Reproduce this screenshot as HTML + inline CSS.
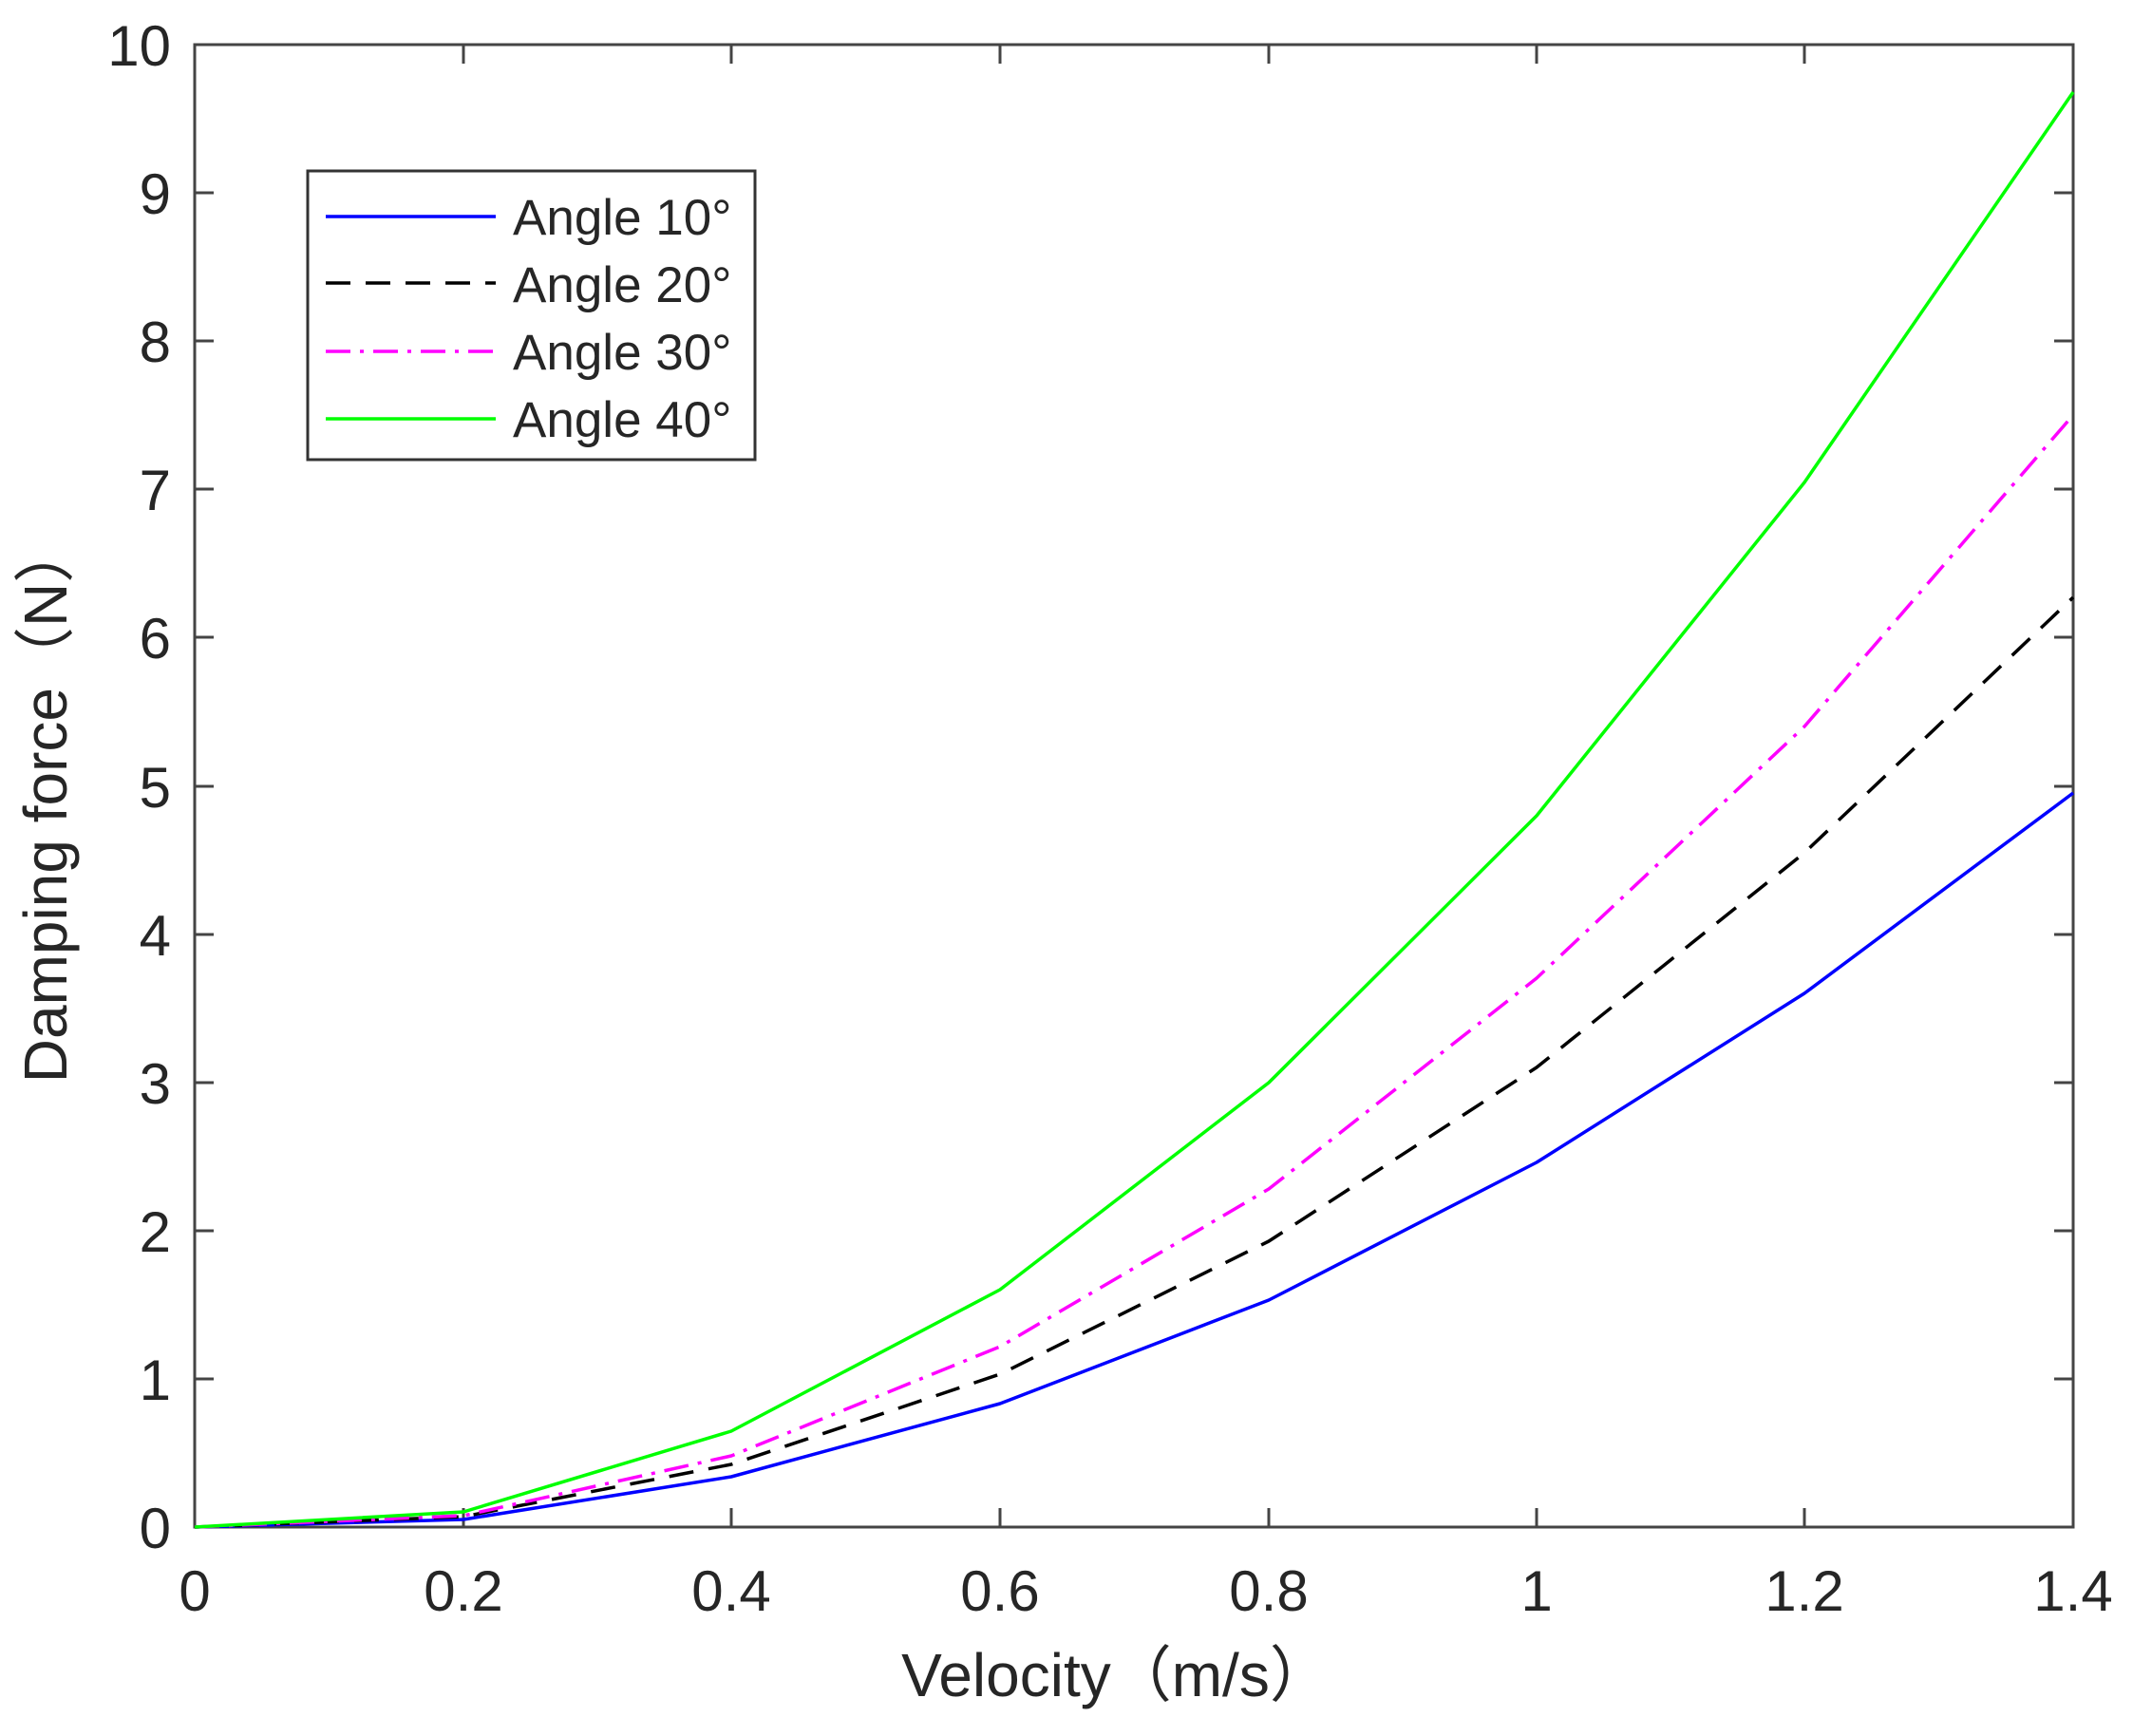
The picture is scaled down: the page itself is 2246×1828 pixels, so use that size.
<!DOCTYPE html>
<html><head><meta charset="utf-8"><style>
html,body{margin:0;padding:0;background:#fff}
svg{display:block}
text{font-family:"Liberation Sans","Noto Sans CJK SC",sans-serif;fill:#262626}
</style></head><body>
<svg width="2246" height="1828" viewBox="0 0 2246 1828" xmlns="http://www.w3.org/2000/svg">
<g stroke="#444" stroke-width="3" fill="none">
<rect x="205" y="47" width="1978" height="1561"/>
<path d="M488,1608v-20M770,1608v-20M1053,1608v-20M1336,1608v-20M1618,1608v-20M1900,1608v-20
M488,47v20M770,47v20M1053,47v20M1336,47v20M1618,47v20M1900,47v20
M205,1452h20M205,1296h20M205,1140h20M205,984h20M205,828h20M205,671h20M205,515h20M205,359h20M205,203h20
M2183,1452h-20M2183,1296h-20M2183,1140h-20M2183,984h-20M2183,828h-20M2183,671h-20M2183,515h-20M2183,359h-20M2183,203h-20"/>
</g>
<g font-size="60" text-anchor="end">
<text x="180" y="1630">0</text><text x="180" y="1474">1</text><text x="180" y="1318">2</text>
<text x="180" y="1162">3</text><text x="180" y="1006">4</text><text x="180" y="850">5</text>
<text x="180" y="693">6</text><text x="180" y="537">7</text><text x="180" y="381">8</text>
<text x="180" y="225">9</text><text x="180" y="69">10</text>
</g>
<g font-size="60" text-anchor="middle">
<text x="205" y="1696">0</text><text x="488" y="1696">0.2</text><text x="770" y="1696">0.4</text>
<text x="1053" y="1696">0.6</text><text x="1336" y="1696">0.8</text><text x="1618" y="1696">1</text>
<text x="1900" y="1696">1.2</text><text x="2183" y="1696">1.4</text>
</g>
<text x="1175" y="1786" font-size="64" text-anchor="middle">Velocity（m/s）</text>
<text transform="translate(70,845) rotate(-90)" font-size="64" text-anchor="middle">Damping force（N）</text>
<g fill="none" stroke-width="3.5" stroke-linejoin="round">
<polyline stroke="#0000ff" points="205,1608 488,1600 770,1555 1053,1478 1336,1369 1618,1224 1900,1046 2183,835"/>
<polyline stroke="#000" stroke-dasharray="26,16" points="205,1608 488,1597 770,1542 1053,1447 1336,1307 1618,1124 1900,898 2183,629"/>
<polyline stroke="#ff00ff" stroke-dasharray="26,10,4,10" points="205,1608 488,1596 770,1533 1053,1418 1336,1252 1618,1030 1900,765 2183,437"/>
<polyline stroke="#00ff00" points="205,1608 488,1592 770,1507 1053,1358 1336,1140 1618,859 1900,508 2183,97"/>
</g>
<rect x="324" y="180" width="471" height="304" fill="#fff" stroke="#333" stroke-width="3"/>
<g stroke-width="3.5">
<line x1="343" y1="228" x2="522" y2="228" stroke="#0000ff"/>
<line x1="343" y1="298" x2="522" y2="298" stroke="#000" stroke-dasharray="26,16"/>
<line x1="343" y1="370" x2="522" y2="370" stroke="#ff00ff" stroke-dasharray="26,10,4,10"/>
<line x1="343" y1="441" x2="522" y2="441" stroke="#00ff00"/>
</g>
<g font-size="53" style="fill:#000">
<text x="540" y="247">Angle 10°</text><text x="540" y="318">Angle 20°</text>
<text x="540" y="389">Angle 30°</text><text x="540" y="460">Angle 40°</text>
</g>
</svg>
</body></html>
